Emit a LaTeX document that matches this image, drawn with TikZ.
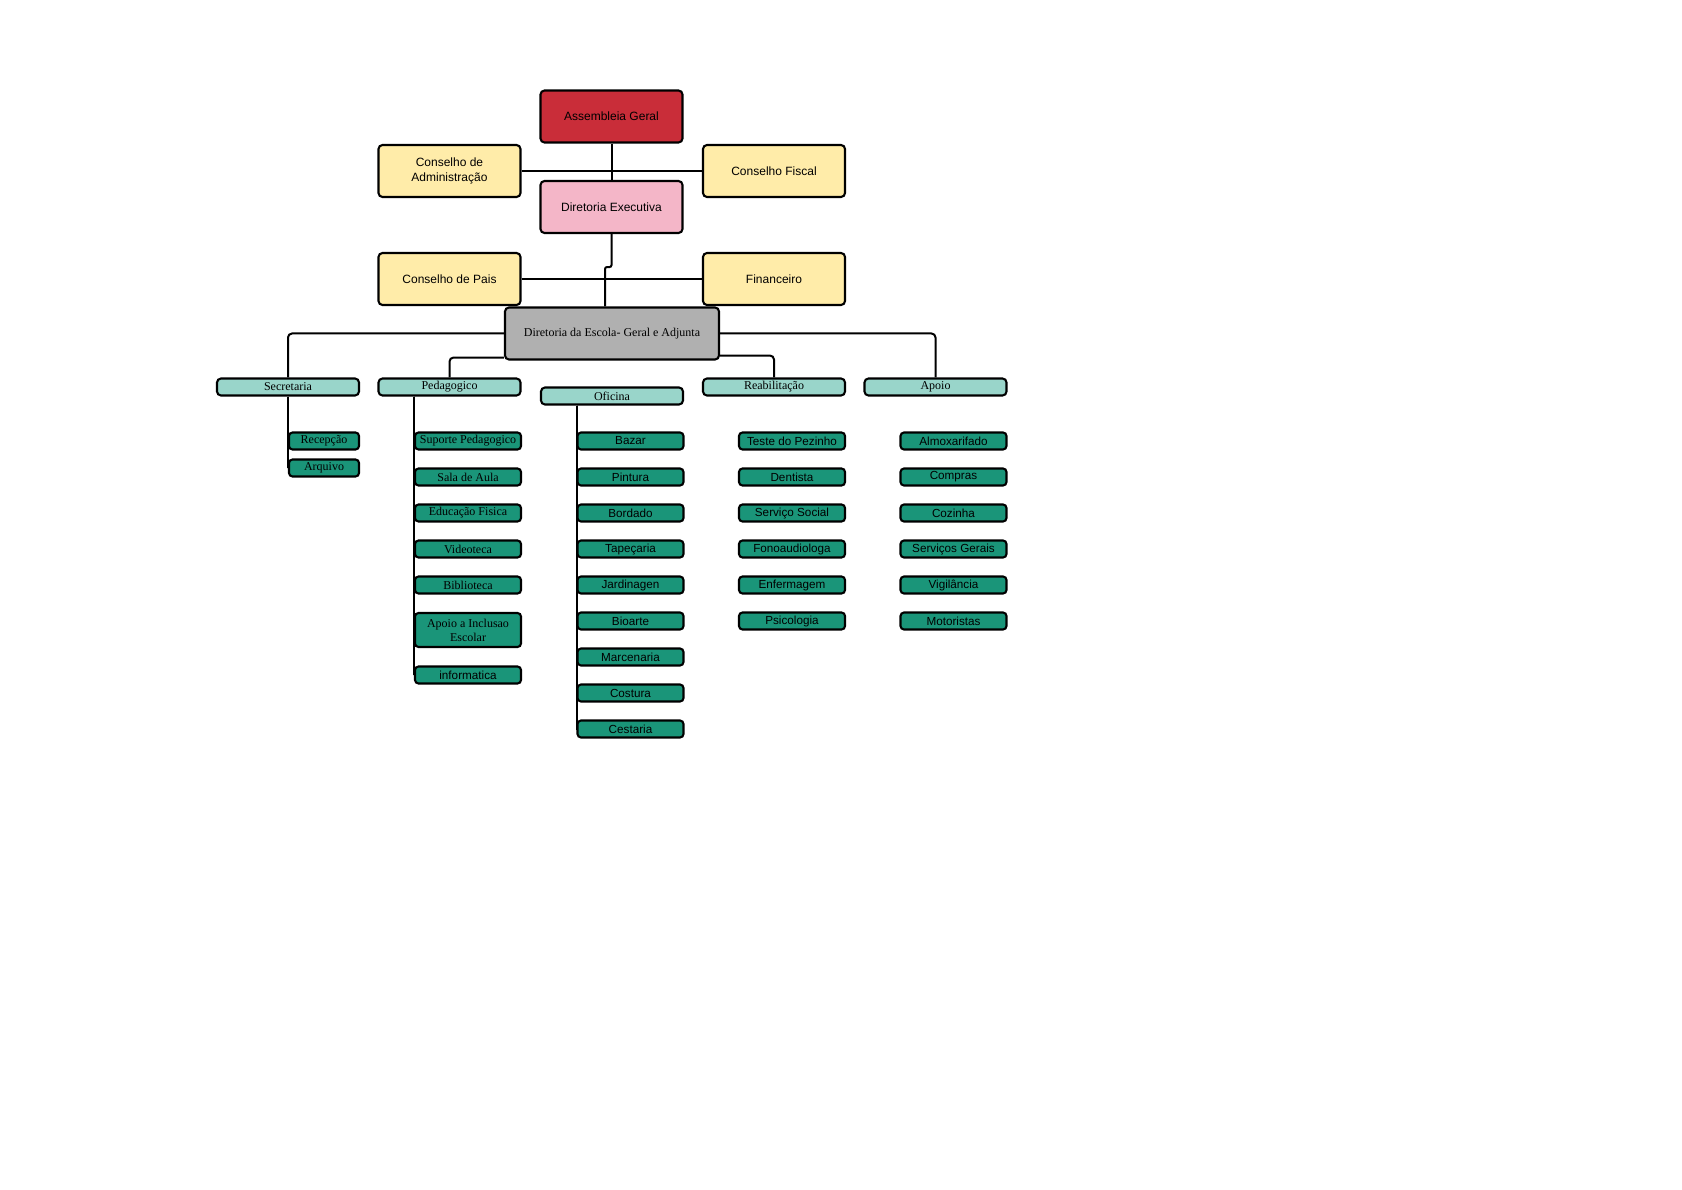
\documentclass[tikz,border=0pt]{standalone}
\usepackage{fontspec}
\setmainfont{Liberation Serif}
\newfontfamily\sansf{Liberation Sans}
\usetikzlibrary{backgrounds}
\definecolor{cred}{HTML}{C92D39}
\definecolor{cyel}{HTML}{FFECA9}
\definecolor{cpink}{HTML}{F4B6C8}
\definecolor{cgray}{HTML}{B0B0B0}
\definecolor{clteal}{HTML}{99D5CA}
\definecolor{cteal}{HTML}{1A9579}
\begin{document}
\begin{tikzpicture}[x=1pt,y=-1pt,
  box/.style={draw=black, line width=2.1pt, rounded corners=4pt, inner sep=0pt, align=center, text=black},
  topbox/.style={box, minimum width=142pt, minimum height=52pt, font=\sansf\fontsize{12}{15}\selectfont},
  catbox/.style={box, fill=clteal, minimum width=142pt, minimum height=17pt, font=\fontsize{12}{14}\selectfont},
  itembox/.style={box, fill=cteal, minimum width=106pt, minimum height=17pt, rounded corners=3.5pt},
  itsf/.style={itembox, font=\sansf\fontsize{11.7}{14}\selectfont},
  itsr/.style={itembox, font=\fontsize{12}{14}\selectfont},
  conn/.style={draw=black, line width=2pt, rounded corners=4pt}]
\path[use as bounding box] (0,0) rectangle (1682,1190);

% top level
\node[topbox, fill=cred] (ag) at (611.5,116.5) {Assembleia Geral};
\node[topbox, fill=cyel] (ca) at (449.5,171) {Conselho de\\Administração};
\node[topbox, fill=cyel] (cf) at (774,171) {Conselho Fiscal};
\node[topbox, fill=cpink] (de) at (611.5,207) {Diretoria Executiva};
\node[topbox, fill=cyel] (cp) at (449.5,279) {Conselho de Pais};
\node[topbox, fill=cyel] (fin) at (774,279) {Financeiro};
\node[box, fill=cgray, minimum width=214pt, minimum height=52pt, font=\fontsize{12}{14}\selectfont] (des) at (612,333.5) {Diretoria da Escola- Geral e Adjunta};

% categories
\node[catbox] (sec) at (288,387) {Secretaria};
\node[catbox] (ped) at (449.5,387) {Pedagogico};
\node[catbox] (ofi) at (612,396) {Oficina};
\node[catbox] (rea) at (774,387) {Reabilitação};
\node[catbox] (apo) at (935.5,387) {Apoio};

% Secretaria
\node[itsr, minimum width=70pt] (rec) at (324,441) {Recepção};
\node[itsr, minimum width=70pt] (arq) at (324,468) {Arquivo};

% Pedagogico
\node[itsr] (sup) at (468,441) {Suporte Pedagogico};
\node[itsr] (sal) at (468,477) {Sala de Aula};
\node[itsr] (edu) at (468,513) {Educação Fisica};
\node[itsr] (vid) at (468,549) {Videoteca};
\node[itsr] (bib) at (468,585) {Biblioteca};
\node[itsr, minimum height=34pt] (inc) at (468,630) {Apoio a Inclusao\\Escolar};
\node[itsf] (inf) at (468,675) {informatica};

% Oficina
\node[itsf] (baz) at (630.5,441) {Bazar};
\node[itsf] (pin) at (630.5,477) {Pintura};
\node[itsf] (bor) at (630.5,513) {Bordado};
\node[itsf] (tap) at (630.5,549) {Tapeçaria};
\node[itsf] (jar) at (630.5,585) {Jardinagen};
\node[itsf] (bio) at (630.5,621) {Bioarte};
\node[itsf] (mar) at (630.5,657) {Marcenaria};
\node[itsf] (cos) at (630.5,693) {Costura};
\node[itsf] (ces) at (630.5,729) {Cestaria};

% Reabilitacao
\node[itsf] (tes) at (792,441) {Teste do Pezinho};
\node[itsf] (den) at (792,477) {Dentista};
\node[itsf] (ser) at (792,513) {Serviço Social};
\node[itsf] (fon) at (792,549) {Fonoaudiologa};
\node[itsf] (enf) at (792,585) {Enfermagem};
\node[itsf] (psi) at (792,621) {Psicologia};

% Apoio
\node[itsf] (alm) at (953.5,441) {Almoxarifado};
\node[itsf] (com) at (953.5,477) {Compras};
\node[itsf] (coz) at (953.5,513) {Cozinha};
\node[itsf] (sge) at (953.5,549) {Serviços Gerais};
\node[itsf] (vig) at (953.5,585) {Vigilância};
\node[itsf] (mot) at (953.5,621) {Motoristas};

\begin{pgfonlayer}{background}
\fill[white] (0,0) rectangle (1682,1190);
\draw[conn] (ag.south) -- (de.north);
\draw[conn] (ca.east) -- (cf.west);
\draw[conn, rounded corners=2pt] (de.south) -- ++(0,33) -| ([xshift=-7pt]des.north);
\draw[conn] (cp.east) -- (fin.west);
\draw[conn] (des.west) -| (sec.north);
\draw[conn] ([yshift=3pt]des.south west) -| (ped.north);
\draw[conn] (des.east) -| (apo.north);
\draw[conn] ([yshift=5pt]des.south east) -| (rea.north);
\foreach \t in {rec,arq}
  \draw[conn, rounded corners=0pt] (sec.south) |- (\t.west);
\foreach \t in {sup,sal,edu,vid,bib,inc,inf}
  \draw[conn, rounded corners=0pt] ([xshift=37pt]ped.south west) |- (\t.west);
\foreach \t in {baz,pin,bor,tap,jar,bio,mar,cos,ces}
  \draw[conn, rounded corners=0pt] ([xshift=37.5pt]ofi.south west) |- (\t.west);
\end{pgfonlayer}
\end{tikzpicture}
\end{document}
